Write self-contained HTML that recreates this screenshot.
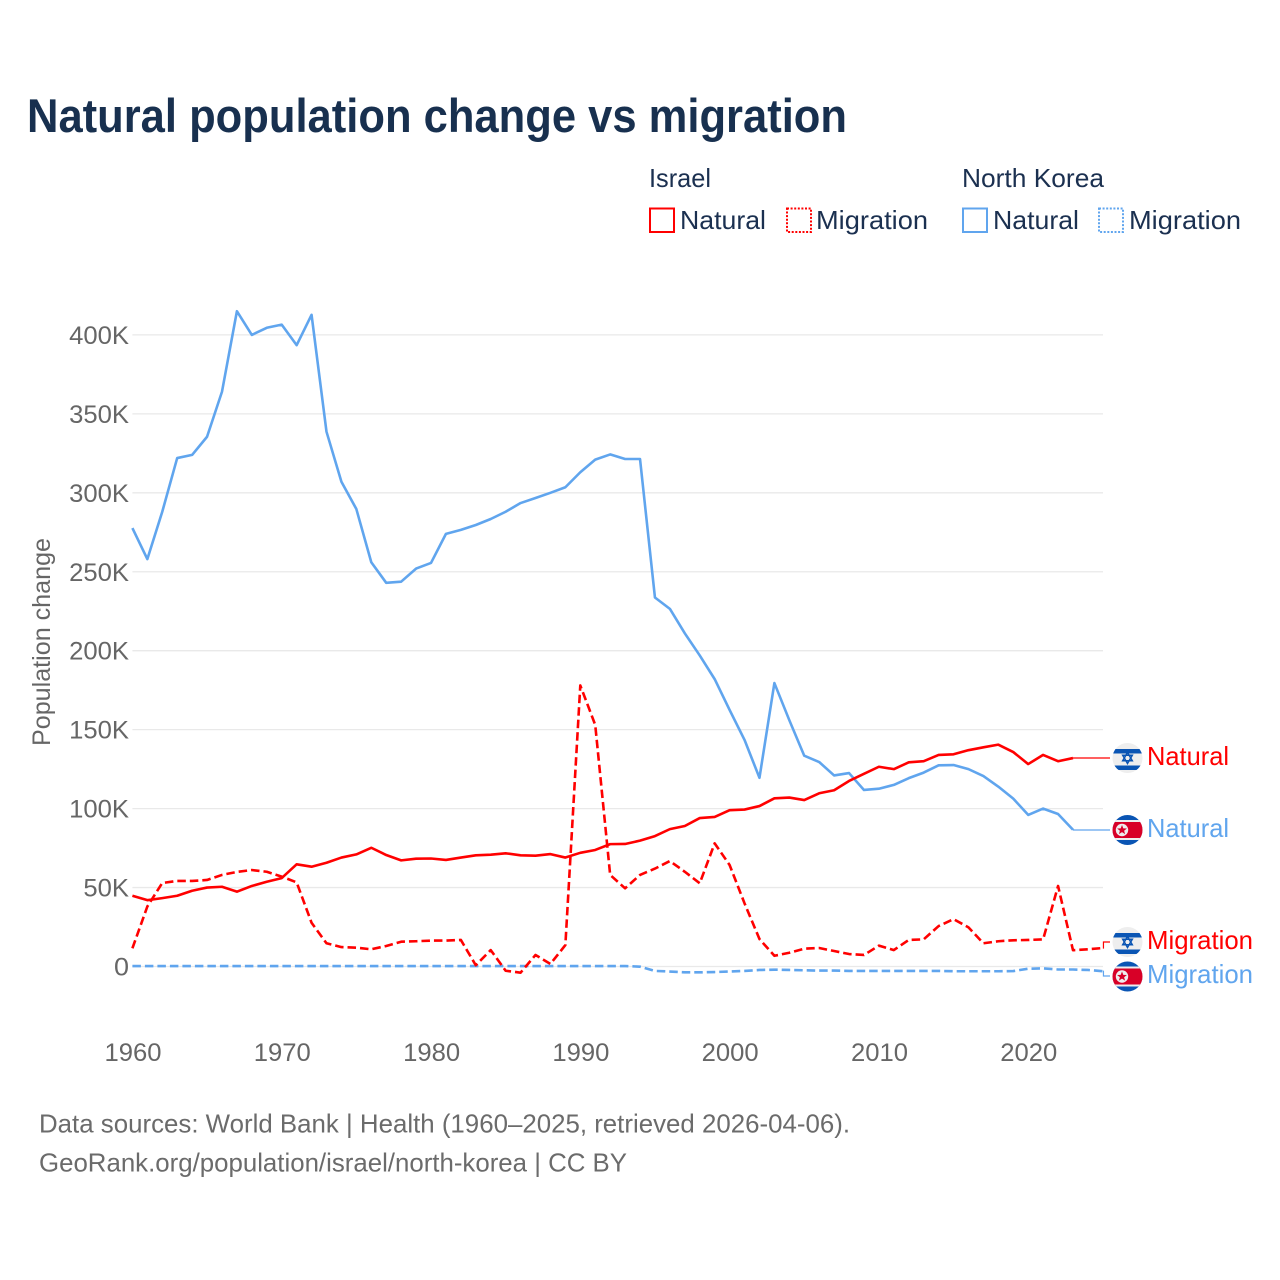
<!DOCTYPE html>
<html lang="en">
<head>
<meta charset="utf-8">
<title>Natural population change vs migration</title>
<style>
html,body{margin:0;padding:0;background:#fff;}
svg{display:block;}
text{font-family:"Liberation Sans",sans-serif;}
</style>
</head>
<body>
<svg id="chart" xmlns="http://www.w3.org/2000/svg" width="1280" height="1280" viewBox="0 0 1280 1280">
  <rect width="1280" height="1280" fill="#fff"/>
  <text x="27" y="132" font-size="47" font-weight="700" fill="#18304f" textLength="820" lengthAdjust="spacingAndGlyphs">Natural population change vs migration</text>

  <g font-size="26" fill="#1b3050">
    <text x="649" y="187" textLength="62" lengthAdjust="spacingAndGlyphs">Israel</text>
    <text x="962" y="187" textLength="142" lengthAdjust="spacingAndGlyphs">North Korea</text>
    <g>
      <rect x="650" y="208.5" width="24" height="23.5" fill="none" stroke="#ff0000" stroke-width="2"/>
      <text x="680" y="229" textLength="86" lengthAdjust="spacingAndGlyphs">Natural</text>
    </g>
    <g>
      <rect x="787" y="208.5" width="24" height="23.5" fill="none" stroke="#ff0000" stroke-width="2" stroke-dasharray="2 1.6"/>
      <text x="816" y="229" textLength="112" lengthAdjust="spacingAndGlyphs">Migration</text>
    </g>
    <g>
      <rect x="963" y="208.5" width="24" height="23.5" fill="none" stroke="#60a5ee" stroke-width="2"/>
      <text x="993" y="229" textLength="86" lengthAdjust="spacingAndGlyphs">Natural</text>
    </g>
    <g>
      <rect x="1099" y="208.5" width="24" height="23.5" fill="none" stroke="#60a5ee" stroke-width="2" stroke-dasharray="2 1.6"/>
      <text x="1129" y="229" textLength="112" lengthAdjust="spacingAndGlyphs">Migration</text>
    </g>
  </g>

  <text transform="translate(50,746) rotate(-90)" font-size="25" fill="#666" textLength="208" lengthAdjust="spacingAndGlyphs">Population change</text>

  <g id="grid"></g>
  <g id="yticks" font-size="25" fill="#666" text-anchor="end"></g>
  <g id="xticks" font-size="25" fill="#666" text-anchor="middle"></g>
  <g id="connectors"></g>
  <g id="series"></g>

  <defs>
    <clipPath id="flag-clip"><circle cx="0" cy="0" r="15"/></clipPath>
    <g id="flag-il">
      <g clip-path="url(#flag-clip)">
        <rect x="-15" y="-15" width="30" height="30" fill="#eeeeee"/>
        <rect x="-15" y="-9" width="30" height="4.5" fill="#0a55b4"/>
        <rect x="-15" y="7.5" width="30" height="4.5" fill="#0a55b4"/>
        <polygon points="0,-5.5 4.8,2.8 -4.8,2.8" fill="none" stroke="#0a55b4" stroke-width="1.5"/>
        <polygon points="0,5.5 4.8,-2.8 -4.8,-2.8" fill="none" stroke="#0a55b4" stroke-width="1.5"/>
      </g>
    </g>
    <g id="flag-kp">
      <g clip-path="url(#flag-clip)">
        <rect x="-15" y="-15" width="30" height="30" fill="#0a55b4"/>
        <rect x="-15" y="-10" width="30" height="20" fill="#eeeeee"/>
        <rect x="-15" y="-8" width="30" height="16" fill="#d80027"/>
        <circle cx="-5.5" cy="0" r="6.2" fill="#eeeeee"/>
        <polygon points="-5.5,-5 -4.2,-1.6 -0.6,-1.5 -3.4,0.7 -2.4,4.1 -5.5,2.1 -8.6,4.1 -7.6,0.7 -10.4,-1.5 -6.8,-1.6" fill="#d80027"/>
      </g>
    </g>
  </defs>

  <g font-size="26">
    <use href="#flag-il" x="1127.5" y="758"/>
    <use href="#flag-kp" x="1127.5" y="830"/>
    <use href="#flag-il" x="1127.5" y="942"/>
    <use href="#flag-kp" x="1127.5" y="976.5"/>
    <text x="1147" y="765" fill="#ff0000" textLength="82" lengthAdjust="spacingAndGlyphs">Natural</text>
    <text x="1147" y="837" fill="#60a5ee" textLength="82" lengthAdjust="spacingAndGlyphs">Natural</text>
    <text x="1147" y="949" fill="#ff0000" textLength="106" lengthAdjust="spacingAndGlyphs">Migration</text>
    <text x="1147" y="983" fill="#60a5ee" textLength="106" lengthAdjust="spacingAndGlyphs">Migration</text>
  </g>

  <g font-size="26" fill="#6b6b6b">
    <text x="39" y="1132.5" textLength="811" lengthAdjust="spacingAndGlyphs">Data sources: World Bank | Health (1960–2025, retrieved 2026-04-06).</text>
    <text x="39" y="1171.5" textLength="588" lengthAdjust="spacingAndGlyphs">GeoRank.org/population/israel/north-korea | CC BY</text>
  </g>
</svg>
<script>
// Values are in thousands of people per year.
const years = [1960,1961,1962,1963,1964,1965,1966,1967,1968,1969,1970,1971,1972,1973,1974,1975,1976,1977,1978,1979,1980,1981,1982,1983,1984,1985,1986,1987,1988,1989,1990,1991,1992,1993,1994,1995,1996,1997,1998,1999,2000,2001,2002,2003,2004,2005,2006,2007,2008,2009,2010,2011,2012,2013,2014,2015,2016,2017,2018,2019,2020,2021,2022,2023,2024,2025];
const israelNatural = [44.8,42,43.3,44.8,48,50,50.5,47.4,51,53.7,56,64.7,63.2,65.7,69,71,75.2,70.6,67.2,68.3,68.4,67.5,69,70.4,70.8,71.7,70.4,70.2,71.2,69,72,73.8,77.5,77.6,79.7,82.6,87,89,94,94.7,99,99.4,101.6,106.5,107,105.4,109.7,111.6,117.5,122,126.5,125,129.3,130,134,134.4,137,138.8,140.5,135.8,128.2,134,130,132];
const israelMigration = [11.5,38,52.9,54.2,54.2,54.8,58,59.9,61.1,60,56.9,53.3,27.7,14.7,12.3,11.9,10.9,13,15.7,16,16.4,16.4,16.8,0.8,10.4,-2.7,-3.9,7.3,1.6,13.6,178,153,58,49.5,58,62,66.8,60,52.7,78,64.3,40,17.4,6.8,8.7,11.3,11.7,9.8,7.9,7.3,13.2,10.4,16.8,17.2,25.6,30,24.8,14.7,16,16.6,16.8,17.2,51,10.3,10.9,11.7];
const koreaNatural = [277.7,258,288,322,324,335.5,364,415,400,404.5,406.5,393.5,412.7,338.7,307,289.7,256,243,243.7,252,255.6,274,276.5,279.6,283.4,288,293.5,296.7,300,303.5,313,321,324.3,321.4,321.4,233.7,226.5,211,197,182,162.5,143.5,119.5,179.5,156,133.5,129.5,121,122.5,111.8,112.6,115,119.3,122.8,127.4,127.6,125,120.6,113.9,106.3,96,100,96.6,86.6];
const koreaMigration = [0.3,0.3,0.3,0.3,0.3,0.3,0.3,0.3,0.3,0.3,0.3,0.3,0.3,0.3,0.3,0.3,0.3,0.3,0.3,0.3,0.3,0.3,0.3,0.3,0.3,0.3,0.3,0.3,0.3,0.3,0.3,0.3,0.3,0.3,-0.1,-2.8,-3.2,-3.7,-3.7,-3.5,-3.2,-2.8,-2.2,-2,-2.2,-2.4,-2.6,-2.6,-2.8,-2.8,-2.8,-2.8,-2.8,-2.8,-2.8,-3,-3,-3,-3,-2.9,-1.4,-1.2,-1.9,-1.9,-2.2,-3];
const yTickValues = [0,50,100,150,200,250,300,350,400];
const yTickLabels = ["0","50K","100K","150K","200K","250K","300K","350K","400K"];
const xTickYears = [1960,1970,1980,1990,2000,2010,2020];

const NS = 'http://www.w3.org/2000/svg';
const RED = '#ff0000';
const BLUE = '#60a5ee';
function xScale(year){ return 132.4 + (year - 1960) * 14.93; }
function yScale(v){ return 966.5 - v * 1.579; }
function make(tag, attrs, parent){
  const el = document.createElementNS(NS, tag);
  for (const k in attrs) el.setAttribute(k, attrs[k]);
  parent.appendChild(el);
  return el;
}
function linePath(values){
  return values.map(function(v, i){
    return (i ? 'L' : 'M') + xScale(years[i]).toFixed(2) + ' ' + yScale(v).toFixed(2);
  }).join('');
}

const grid = document.getElementById('grid');
const yticks = document.getElementById('yticks');
yTickValues.forEach(function(v, i){
  const line = make('line', {x1: 132.4, x2: 1103, y1: yScale(v), y2: yScale(v), stroke: '#e9e9e9', 'stroke-width': 1.3}, grid);
  
  
  const label = yTickLabels[i];
  const t = make('text', {x: 129, y: yScale(v) + 9, textLength: (label.length - 1) * 14.3 + (label.length > 1 ? 17 : 15), lengthAdjust: 'spacingAndGlyphs'}, yticks);
  t.textContent = label;
  
  
});

const xticks = document.getElementById('xticks');
xTickYears.forEach(function(year){
  const t = make('text', {x: xScale(year) + 0.6, y: 1061, textLength: 57, lengthAdjust: 'spacingAndGlyphs'}, xticks);
  t.textContent = String(year);
  
  
});

const seriesGroup = document.getElementById('series');
const connectorGroup = document.getElementById('connectors');

function drawSeries(values, color, dashed, labelY, name){
  const p = make('path', {d: linePath(values), fill: 'none', stroke: color, 'stroke-width': 2.6, 'stroke-linejoin': 'round'}, seriesGroup);
  if (dashed) p.setAttribute('stroke-dasharray', '8.5 4');
  
  
  const endX = xScale(years[values.length - 1]);
  const endY = yScale(values[values.length - 1]);
  const c = make('path', {d: 'M' + endX + ' ' + endY + 'L' + (endX + 0.6) + ' ' + endY + 'L' + (endX + 0.6) + ' ' + labelY + 'L1110 ' + labelY, fill: 'none', stroke: color, 'stroke-width': 1.2}, connectorGroup);
  
  
}

drawSeries(koreaNatural, BLUE, false, 830, 'line-north-korea-natural');
drawSeries(koreaMigration, BLUE, true, 976, 'line-north-korea-migration');
drawSeries(israelNatural, RED, false, 758, 'line-israel-natural');
drawSeries(israelMigration, RED, true, 942, 'line-israel-migration');
</script>
</body>
</html>
